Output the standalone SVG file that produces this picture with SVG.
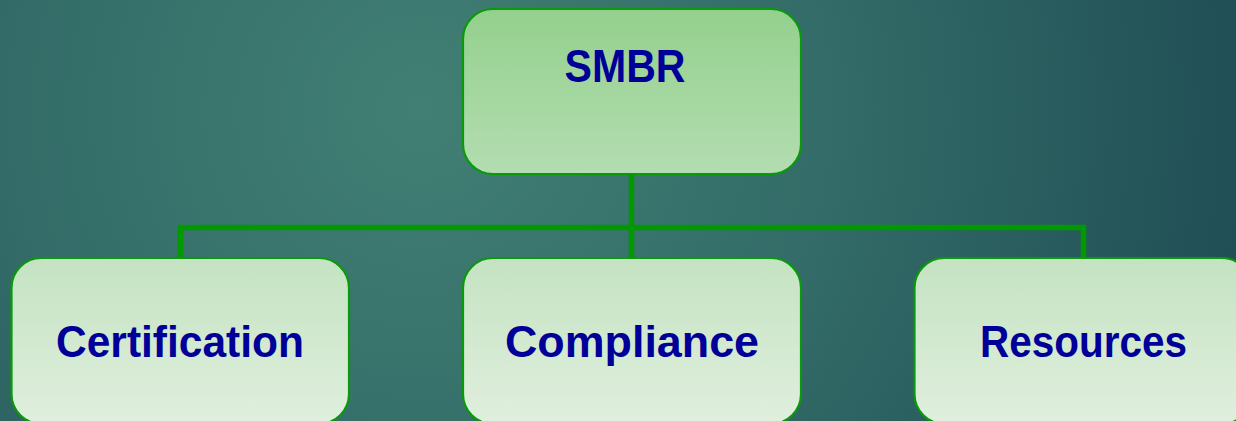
<svg xmlns="http://www.w3.org/2000/svg" width="1236" height="421" viewBox="0 0 1236 421">
<defs>
<radialGradient id="bg" cx="420" cy="110" r="900" gradientUnits="userSpaceOnUse">
<stop offset="0" stop-color="#417f74"/>
<stop offset="0.45" stop-color="#336c68"/>
<stop offset="1" stop-color="#1d4a52"/>
</radialGradient>
<linearGradient id="topFill" x1="0" y1="0" x2="0" y2="1">
<stop offset="0" stop-color="#93d08d"/>
<stop offset="1" stop-color="#b4ddb1"/>
</linearGradient>
<linearGradient id="subFill" x1="0" y1="0" x2="0" y2="1">
<stop offset="0" stop-color="#c4e3c2"/>
<stop offset="1" stop-color="#e0efde"/>
</linearGradient>
<style>
.box{stroke:#0a990a;stroke-width:2.2}
.lbl{font-family:"Liberation Sans",Arial,sans-serif;font-weight:bold;fill:#000099;text-anchor:middle}
.conn{stroke:#009900;stroke-width:5.5;fill:none;stroke-linecap:square}
</style>
</defs>
<rect x="0" y="0" width="1236" height="421" fill="url(#bg)"/>
<g id="connectors">
<path class="conn" d="M631.5 175 V227.5"/>
<path class="conn" d="M180.5 258 V227.5 H1083.5 V258"/>
<path class="conn" d="M631.5 227.5 V258"/>
</g>
<g id="smbr">
<rect class="box" x="463" y="9" width="338" height="165" rx="30" ry="30" fill="url(#topFill)"/>
<text class="lbl" x="625" y="82" font-size="47" textLength="121" lengthAdjust="spacingAndGlyphs">SMBR</text>
</g>
<g id="certification">
<rect class="box" x="11.5" y="258" width="337.5" height="166" rx="30" ry="30" fill="url(#subFill)"/>
<text class="lbl" x="180" y="357" font-size="44" textLength="248" lengthAdjust="spacingAndGlyphs">Certification</text>
</g>
<g id="compliance">
<rect class="box" x="463" y="258" width="338" height="166" rx="30" ry="30" fill="url(#subFill)"/>
<text class="lbl" x="632" y="357" font-size="44" textLength="254" lengthAdjust="spacingAndGlyphs">Compliance</text>
</g>
<g id="resources">
<rect class="box" x="914.5" y="258" width="337.5" height="166" rx="30" ry="30" fill="url(#subFill)"/>
<text class="lbl" x="1083.5" y="357" font-size="44" textLength="207" lengthAdjust="spacingAndGlyphs">Resources</text>
</g>
</svg>
